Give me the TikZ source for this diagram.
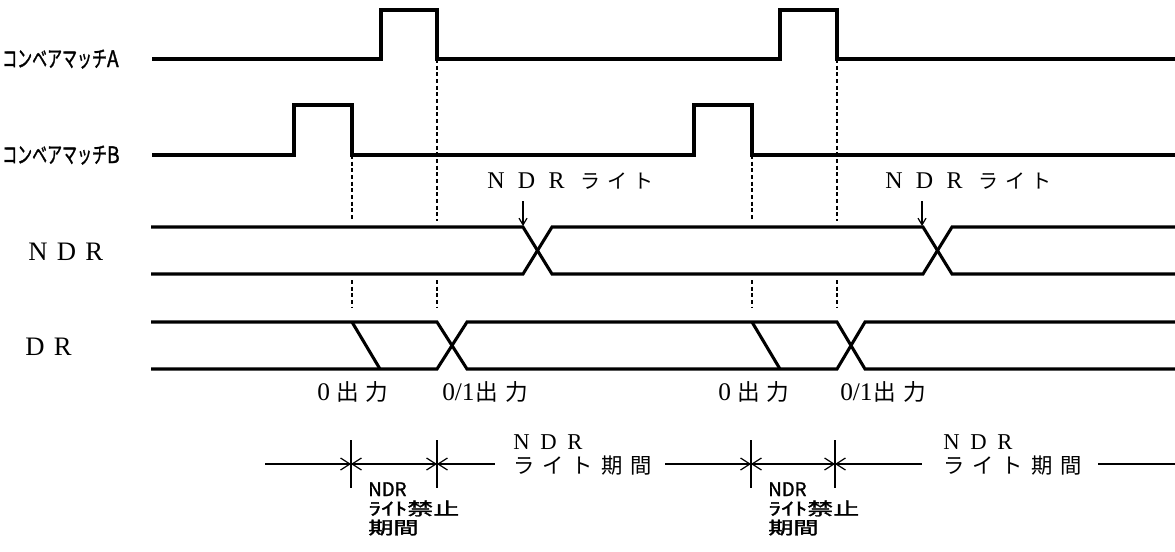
\documentclass[tikz,border=0pt]{standalone}
\usepackage{fontspec}
\setmainfont{Liberation Serif}
\newfontfamily\jp{Noto Sans CJK JP}
\newfontfamily\jpb[FakeBold=1.5]{Noto Sans CJK JP}
\usetikzlibrary{arrows.meta}
\newcommand\gp[1]{\hspace{#1pt}}
\begin{document}
\begin{tikzpicture}[x=0.75pt,y=-0.75pt,
  sig/.style={line width=2.3pt, line join=miter},
  guideline/.style={line width=1.1pt, dash pattern=on 3pt off 2pt},
  dimline/.style={line width=1pt},
  tickline/.style={line width=1.1pt},
  arrowline/.style={line width=0.9pt},
  txt/.style={inner sep=0pt, anchor=base west},
  bb/.tip={Straight Barb[length=7pt,width=9pt,line width=0.9pt]},
]
\useasboundingbox (0,0) rectangle (1175,551);

% ---------- labels on the left ----------
\node[txt] (labA) at (2,67) {\jpb\fontsize{17}{17}\selectfont\scalebox{0.66}[1]{コンベアマッチ}\scalebox{0.85}[1]{A}};
\node[txt] (labB) at (2,163) {\jpb\fontsize{17}{17}\selectfont\scalebox{0.66}[1]{コンベアマッチ}\scalebox{0.85}[1]{B}};
\node[txt] (labN) at (28,260) {\fontsize{20}{20}\selectfont N\gp{7}D\gp{7}R};
\node[txt] (labD) at (25,355) {\fontsize{20}{20}\selectfont D\gp{7}R};

% ---------- compare match A ----------
\draw[sig] (152,59) -- (381,59) -- (381,10) -- (437,10) -- (437,59)
  -- (780,59) -- (780,10) -- (837,10) -- (837,59) -- (1175,59);
% ---------- compare match B ----------
\draw[sig] (152,155) -- (294,155) -- (294,105) -- (352,105) -- (352,155)
  -- (694,155) -- (694,105) -- (752,105) -- (752,155) -- (1175,155);

% ---------- NDR bus ----------
\draw[sig] (151,227) -- (523,227) -- (552,274) -- (923,274) -- (952,227) -- (1175,227);
\draw[sig] (151,274) -- (523,274) -- (552,227) -- (923,227) -- (952,274) -- (1175,274);

% ---------- DR bus ----------
\draw[sig] (151,322) -- (437,322) -- (467,369) -- (837,369) -- (865,322) -- (1175,322);
\draw[sig] (151,369) -- (437,369) -- (467,322) -- (837,322) -- (865,369) -- (1175,369);
\draw[sig] (352,322) -- (380,369);
\draw[sig] (752,322) -- (780,369);

% ---------- dashed guides ----------
\foreach \x/\y in {352/155, 437/59, 752/155, 837/59}{
  \draw[guideline] (\x,\y) -- (\x,221);
  \draw[guideline] (\x,280) -- (\x,307);
}

% ---------- NDR write arrows ----------
\coordinate (w1s) at (523,201);
\coordinate (w1e) at (523,226);
\coordinate (w2s) at (922,201);
\coordinate (w2e) at (922,226);
\draw[arrowline,-{Straight Barb[length=5pt,width=6pt]}] (w1s) -- (w1e);
\draw[arrowline,-{Straight Barb[length=5pt,width=6pt]}] (w2s) -- (w2e);
\node[txt] (nw1) at (487,188) {\fontsize{18}{18}\selectfont N\gp{10}D\gp{10}R\gp{12}{\jp\fontsize{15}{15}\selectfont ラ\gp{5}イ\gp{5}ト}};
\node[txt] (nw2) at (885,188) {\fontsize{18}{18}\selectfont N\gp{10}D\gp{10}R\gp{12}{\jp\fontsize{15}{15}\selectfont ラ\gp{5}イ\gp{5}ト}};

% ---------- output labels ----------
\node[txt] (o1) at (317,400) {\fontsize{19}{19}\selectfont 0\gp{5}{\jp\fontsize{17}{17}\selectfont 出\gp{5}力}};
\node[txt] (o2) at (442,400) {\fontsize{19}{19}\selectfont 0/1\gp{1}{\jp\fontsize{17}{17}\selectfont 出\gp{5}力}};
\node[txt] (o3) at (718,400) {\fontsize{19}{19}\selectfont 0\gp{5}{\jp\fontsize{17}{17}\selectfont 出\gp{5}力}};
\node[txt] (o4) at (840,400) {\fontsize{19}{19}\selectfont 0/1\gp{1}{\jp\fontsize{17}{17}\selectfont 出\gp{5}力}};

% ---------- period dimension line ----------
\coordinate (d0) at (265,464);
\coordinate (t1) at (351,464);
\coordinate (t2) at (437,464);
\coordinate (g1) at (495,464);
\coordinate (g2) at (665,464);
\coordinate (t3) at (751,464);
\coordinate (t4) at (835,464);
\coordinate (g3) at (922,464);
\coordinate (g4) at (1098,464);
\coordinate (d5) at (1175,464);
\draw[dimline,-bb] (d0) -- (t1);
\draw[dimline,bb-bb] (t1) -- (t2);
\draw[dimline,bb-] (t2) -- (g1);
\draw[dimline,-bb] (g2) -- (t3);
\draw[dimline,bb-bb] (t3) -- (t4);
\draw[dimline,bb-] (t4) -- (g3);
\draw[dimline] (g4) -- (d5);
\foreach \t in {t1,t2,t3,t4}{
  \draw[tickline] (\t) ++(0,-24) -- ++(0,48);
}

% ---------- write period labels ----------
\node[txt] (p1a) at (513,449) {\fontsize{17}{17}\selectfont N\gp{8}D\gp{8}R};
\node[txt] (p1b) at (513,473) {\jp\fontsize{16}{16}\selectfont ラ\gp{6}イ\gp{6}ト\gp{6}期\gp{6}間};
\node[txt] (p2a) at (943,449) {\fontsize{17}{17}\selectfont N\gp{8}D\gp{8}R};
\node[txt] (p2b) at (943,473) {\jp\fontsize{16}{16}\selectfont ラ\gp{6}イ\gp{6}ト\gp{6}期\gp{6}間};

% ---------- inhibit period labels ----------
\node[txt] (q1a) at (368,496) {\jpb\fontsize{14}{14}\selectfont NDR};
\node[txt] (q1b) at (368,515) {\jpb\fontsize{13}{13}\selectfont\scalebox{1.5}[1]{ﾗｲﾄ禁止}};
\node[txt] (q1c) at (368,534) {\jpb\fontsize{13}{13}\selectfont\scalebox{1.45}[1]{期間}};
\node[txt] (q2a) at (768,496) {\jpb\fontsize{14}{14}\selectfont NDR};
\node[txt] (q2b) at (768,515) {\jpb\fontsize{13}{13}\selectfont\scalebox{1.5}[1]{ﾗｲﾄ禁止}};
\node[txt] (q2c) at (768,534) {\jpb\fontsize{13}{13}\selectfont\scalebox{1.45}[1]{期間}};
\end{tikzpicture}
\end{document}
